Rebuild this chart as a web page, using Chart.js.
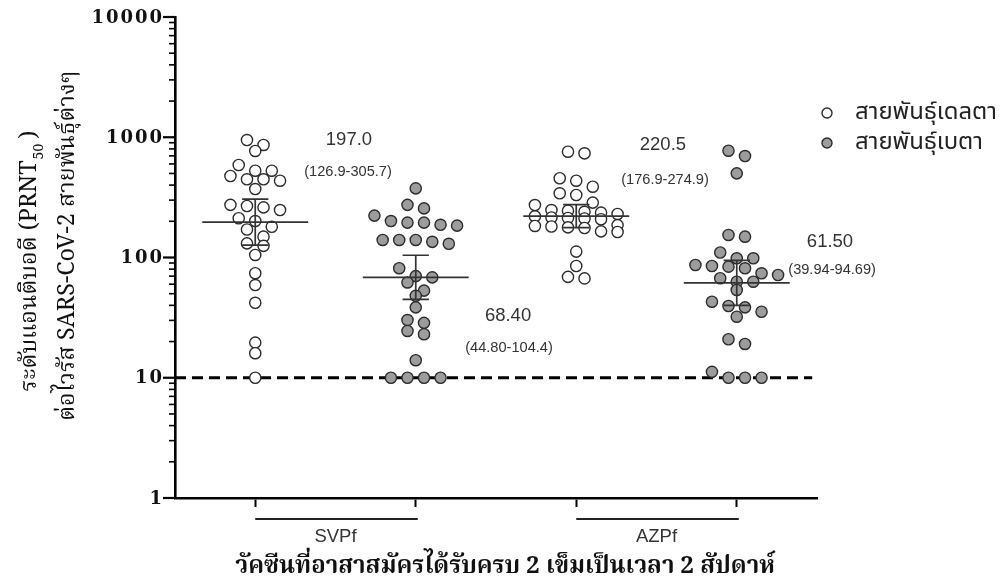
<!DOCTYPE html>
<html>
<head>
<meta charset="utf-8">
<script src="https://cdn.jsdelivr.net/npm/chart.js@4.4.1/dist/chart.umd.min.js"></script>
<style>
  html, body { margin: 0; padding: 0; background: #fff; }
  #wrap { width: 1000px; height: 585px; }
</style>
</head>
<body>
<div id="wrap"><canvas id="chart" width="1000" height="585"></canvas></div>
<script>
// ========== DATA ==========
const groups = ['SVPf', 'AZPf'];
const seriesNames = ['สายพันธุ์เดลตา', 'สายพันธุ์เบตา'];

// PRNT50 titres per vaccinee
const svpfDelta = [948, 863, 769, 588, 527, 527, 476, 447, 447, 435, 371, 274, 268, 261, 248,
  212, 201, 180, 171, 149, 131, 125, 105, 74, 59, 42, 19.6, 16, 10];
const svpfBeta = [376, 274, 256, 223, 201, 195, 195, 187, 184, 140, 140, 140, 135, 130, 81.5,
  70, 68.4, 62, 53, 48, 38.5, 30.2, 28.6, 24.5, 23, 14, 10, 10, 10, 10];
const azpfDelta = [758, 735, 456, 435, 388, 342, 331, 286, 273, 248, 245, 240, 236, 230, 220,
  215, 213, 211, 208, 186, 183, 181, 178, 176, 165, 163, 112, 85, 69, 67];
const azpfBeta = [773, 698, 501, 154, 149, 110, 98.5, 98.5, 86.6, 85, 83.9, 81.3, 73.9, 71.5,
  67.2, 62.9, 62.9, 53.7, 42.9, 39.5, 38.5, 35.4, 32.2, 20.9, 19.1, 11.2, 10, 10, 10];

// geometric mean + 95% CI, one per column
const medians = [197.0, 68.40, 220.5, 61.50];
const ciLow = [126.9, 44.80, 176.9, 39.94];
const ciHigh = [305.7, 104.4, 274.9, 94.69];
const medianLabels = ['197.0', '68.40', '220.5', '61.50'];
const ciLabels = ['(126.9-305.7)', '(44.80-104.4)', '(176.9-274.9)', '(39.94-94.69)'];

const yTicks = [1, 10, 100, 1000, 10000];
const limitOfDetection = 10;

const xTitle = 'วัคซีนที่อาสาสมัครได้รับครบ 2 เข็มเป็นเวลา 2 สัปดาห์';
const yTitleA = 'ระดับแอนติบอดี (PRNT';
const yTitleSub = '50';
const yTitleB = 'ต่อไวรัส SARS-CoV-2 สายพันธุ์ต่างๆ';


// ========== STYLE ==========
const OPEN_FILL = '#ffffff';
const BETA_FILL = '#9c9c9c';
const EDGE = '#2b2b2b';
const DOT_STEP = 0.103;   // horizontal step between dots, in column units
const ROW_H = 0.085;      // decades that count as one row
const MAX_ROW = 6;
const THAI_SERIF = '"Noto Serif Thai", "Noto Sans Thai", "DejaVu Serif", serif';
const THAI_SANS = '"Noto Sans Thai", "Noto Sans", "DejaVu Sans", sans-serif';
const NUM_FONT = '"Liberation Sans", Arial, sans-serif';

// spread dots of one column sideways, row by row (like a dot plot)
function swarm(values, center) {
  const sorted = [...values].sort((a, b) => b - a);
  const pts = [];
  let row = [];
  const flush = () => {
    row.forEach((v, i) => pts.push({ x: center + (i - (row.length - 1) / 2) * DOT_STEP, y: v }));
    row = [];
  };
  sorted.forEach(v => {
    if (row.length && (Math.log10(row[0]) - Math.log10(v) > ROW_H || row.length >= MAX_ROW)) flush();
    row.push(v);
  });
  flush();
  return pts;
}

const columns = [svpfDelta, svpfBeta, azpfDelta, azpfBeta];

function dotSet(i) {
  const beta = i % 2 === 1;
  return {
    type: 'scatter',
    data: swarm(columns[i], i),
    pointRadius: 5.6,
    pointHoverRadius: 5.6,
    pointBorderWidth: 1.4,
    pointBackgroundColor: beta ? BETA_FILL : OPEN_FILL,
    pointBorderColor: EDGE,
  };
}

// font size that makes text about `width` px wide
function fitSize(ctx, text, family, weight, width) {
  ctx.font = weight + ' 20px ' + family;
  return 20 * width / ctx.measureText(text).width;
}


// ========== DECORATIONS ==========
const decorations = {
  id: 'decorations',
  beforeDatasetsDraw(chart) {
    const { ctx, scales: { x, y } } = chart;
    const yy = y.getPixelForValue(limitOfDetection);
    ctx.save();
    ctx.strokeStyle = '#000';
    ctx.lineWidth = 3;
    ctx.setLineDash([11, 6]);
    ctx.beginPath();
    ctx.moveTo(x.left, yy);
    ctx.lineTo(x.getPixelForValue(3.47), yy);
    ctx.stroke();
    ctx.restore();
  },

  afterDatasetsDraw(chart) {
    const { ctx, scales: { x, y } } = chart;
    ctx.save();
    ctx.strokeStyle = '#333';
    ctx.lineWidth = 1.7;
    medians.forEach((m, i) => {
      const cx = x.getPixelForValue(i);
      const half = x.getPixelForValue(i + 0.33) - cx;
      const cap = x.getPixelForValue(i + 0.082) - cx;
      const ym = y.getPixelForValue(m);
      const yl = y.getPixelForValue(ciLow[i]);
      const yh = y.getPixelForValue(ciHigh[i]);
      ctx.beginPath();
      ctx.moveTo(cx - half, ym); ctx.lineTo(cx + half, ym);
      ctx.moveTo(cx, yl); ctx.lineTo(cx, yh);
      ctx.moveTo(cx - cap, yl); ctx.lineTo(cx + cap, yl);
      ctx.moveTo(cx - cap, yh); ctx.lineTo(cx + cap, yh);
      ctx.stroke();
    });
    ctx.restore();
  },

  afterDraw(chart) {
    const { ctx, scales: { x, y } } = chart;
    ctx.save();

    // y ticks: long at decades, short in between
    ctx.strokeStyle = '#000';
    for (let d = 1; d <= 10000; d *= 10) {
      for (let k = 1; k <= 9; k++) {
        const v = d * k;
        if (v > 10000) break;
        const py = y.getPixelForValue(v);
        const major = k === 1;
        ctx.lineWidth = major ? 2.2 : 1.6;
        ctx.beginPath();
        ctx.moveTo(x.left, py);
        ctx.lineTo(x.left - (major ? 12 : 6), py);
        ctx.stroke();
      }
    }

    // y tick labels (wide bold serif)
    ctx.fillStyle = '#111';
    ctx.font = 'bold 18px "DejaVu Serif", serif';
    ctx.letterSpacing = '2px';
    ctx.textAlign = 'right';
    ctx.textBaseline = 'middle';
    yTicks.forEach(v => ctx.fillText(String(v), x.left - 11, y.getPixelForValue(v) + 1));
    ctx.letterSpacing = '0px';

    // geometric means and CIs
    const spots = [
      { mx: 0.584, my: 140, cx: 0.578, cy: 172 },
      { mx: 1.575, my: 316, cx: 1.581, cy: 348 },
      { mx: 2.540, my: 145, cx: 2.553, cy: 180 },
      { mx: 3.581, my: 242, cx: 3.594, cy: 270 },
    ];
    ctx.fillStyle = '#333';
    ctx.textAlign = 'center';
    spots.forEach((s, i) => {
      ctx.font = '18.5px ' + NUM_FONT;
      ctx.fillText(medianLabels[i], x.getPixelForValue(s.mx), s.my);
      ctx.font = '14.6px ' + NUM_FONT;
      ctx.fillText(ciLabels[i], x.getPixelForValue(s.cx), s.cy);
    });

    // vaccine group brackets under the axis
    const barY = 519;
    ctx.strokeStyle = '#222';
    ctx.lineWidth = 2.2;
    groups.forEach((g, gi) => {
      const a = x.getPixelForValue(gi * 2);
      const b = x.getPixelForValue(gi * 2 + 1);
      ctx.beginPath();
      ctx.moveTo(a, barY); ctx.lineTo(b + 2, barY);
      ctx.stroke();
      ctx.font = '18.5px ' + NUM_FONT;
      ctx.fillStyle = '#333';
      ctx.fillText(g, (a + b) / 2, 537);
    });

    // legend
    const legendSize = fitSize(ctx, seriesNames[0], THAI_SANS, 'normal', 142);
    seriesNames.forEach((name, i) => {
      const ly = 113 + i * 30;
      ctx.beginPath();
      ctx.arc(827, ly, 5, 0, Math.PI * 2);
      ctx.fillStyle = i === 0 ? OPEN_FILL : BETA_FILL;
      ctx.fill();
      ctx.lineWidth = 1.4;
      ctx.strokeStyle = EDGE;
      ctx.stroke();
      ctx.fillStyle = '#222';
      ctx.textAlign = 'left';
      ctx.font = legendSize + 'px ' + THAI_SANS;
      ctx.fillText(name, 855, ly + 1);
    });

    // x title
    ctx.fillStyle = '#111';
    ctx.textAlign = 'center';
    ctx.font = 'bold ' + fitSize(ctx, xTitle, THAI_SERIF, 'bold', 540) + 'px ' + THAI_SERIF;
    ctx.fillText(xTitle, 505, 569);

    // y title, two rotated lines
    const ySize = fitSize(ctx, yTitleB, THAI_SERIF, 'normal', 350);
    const subSize = ySize * 0.6;
    ctx.save();
    ctx.translate(32, 261);
    ctx.rotate(-Math.PI / 2);
    ctx.font = ySize + 'px ' + THAI_SERIF;
    const wA = ctx.measureText(yTitleA).width;
    const wC = ctx.measureText(' )').width;
    ctx.font = subSize + 'px ' + THAI_SERIF;
    const wS = ctx.measureText(yTitleSub).width;
    const sx = -(wA + wS + wC) / 2;
    ctx.textAlign = 'left';
    ctx.font = ySize + 'px ' + THAI_SERIF;
    ctx.fillText(yTitleA, sx, 0);
    ctx.font = subSize + 'px ' + THAI_SERIF;
    ctx.fillText(yTitleSub, sx + wA + 1, ySize * 0.35);
    ctx.font = ySize + 'px ' + THAI_SERIF;
    ctx.fillText(' )', sx + wA + wS, 0);
    ctx.restore();

    ctx.save();
    ctx.translate(70, 246);
    ctx.rotate(-Math.PI / 2);
    ctx.font = ySize + 'px ' + THAI_SERIF;
    ctx.textAlign = 'center';
    ctx.fillText(yTitleB, 0, 0);
    ctx.restore();

    ctx.restore();
  }
};


// ========== CHART ==========
const chart = new Chart(document.getElementById('chart'), {
  type: 'scatter',
  data: { datasets: [0, 1, 2, 3].map(dotSet) },
  options: {
    responsive: false,
    animation: false,
    layout: { padding: { top: 17, right: 183, left: 0, bottom: 0 } },
    plugins: { legend: { display: false }, tooltip: { enabled: false } },
    scales: {
      x: {
        type: 'linear',
        min: -0.5,
        max: 3.5,
        afterBuildTicks: s => { s.ticks = [0, 1, 2, 3].map(v => ({ value: v })); },
        afterFit: s => { s.height = 87; },
        ticks: { display: false },
        grid: { drawOnChartArea: false, tickLength: 9, tickWidth: 2, tickColor: '#000' },
        border: { color: '#000', width: 2.6 },
      },
      y: {
        type: 'logarithmic',
        min: 1,
        max: 10000,
        afterBuildTicks: s => { s.ticks = yTicks.map(v => ({ value: v })); },
        afterFit: s => { s.width = 175; },
        ticks: { display: false },
        grid: { display: false, drawTicks: false },
        border: { color: '#000', width: 2.6 },
      },
    },
  },
  plugins: [decorations],
});
</script>
</body>
</html>
